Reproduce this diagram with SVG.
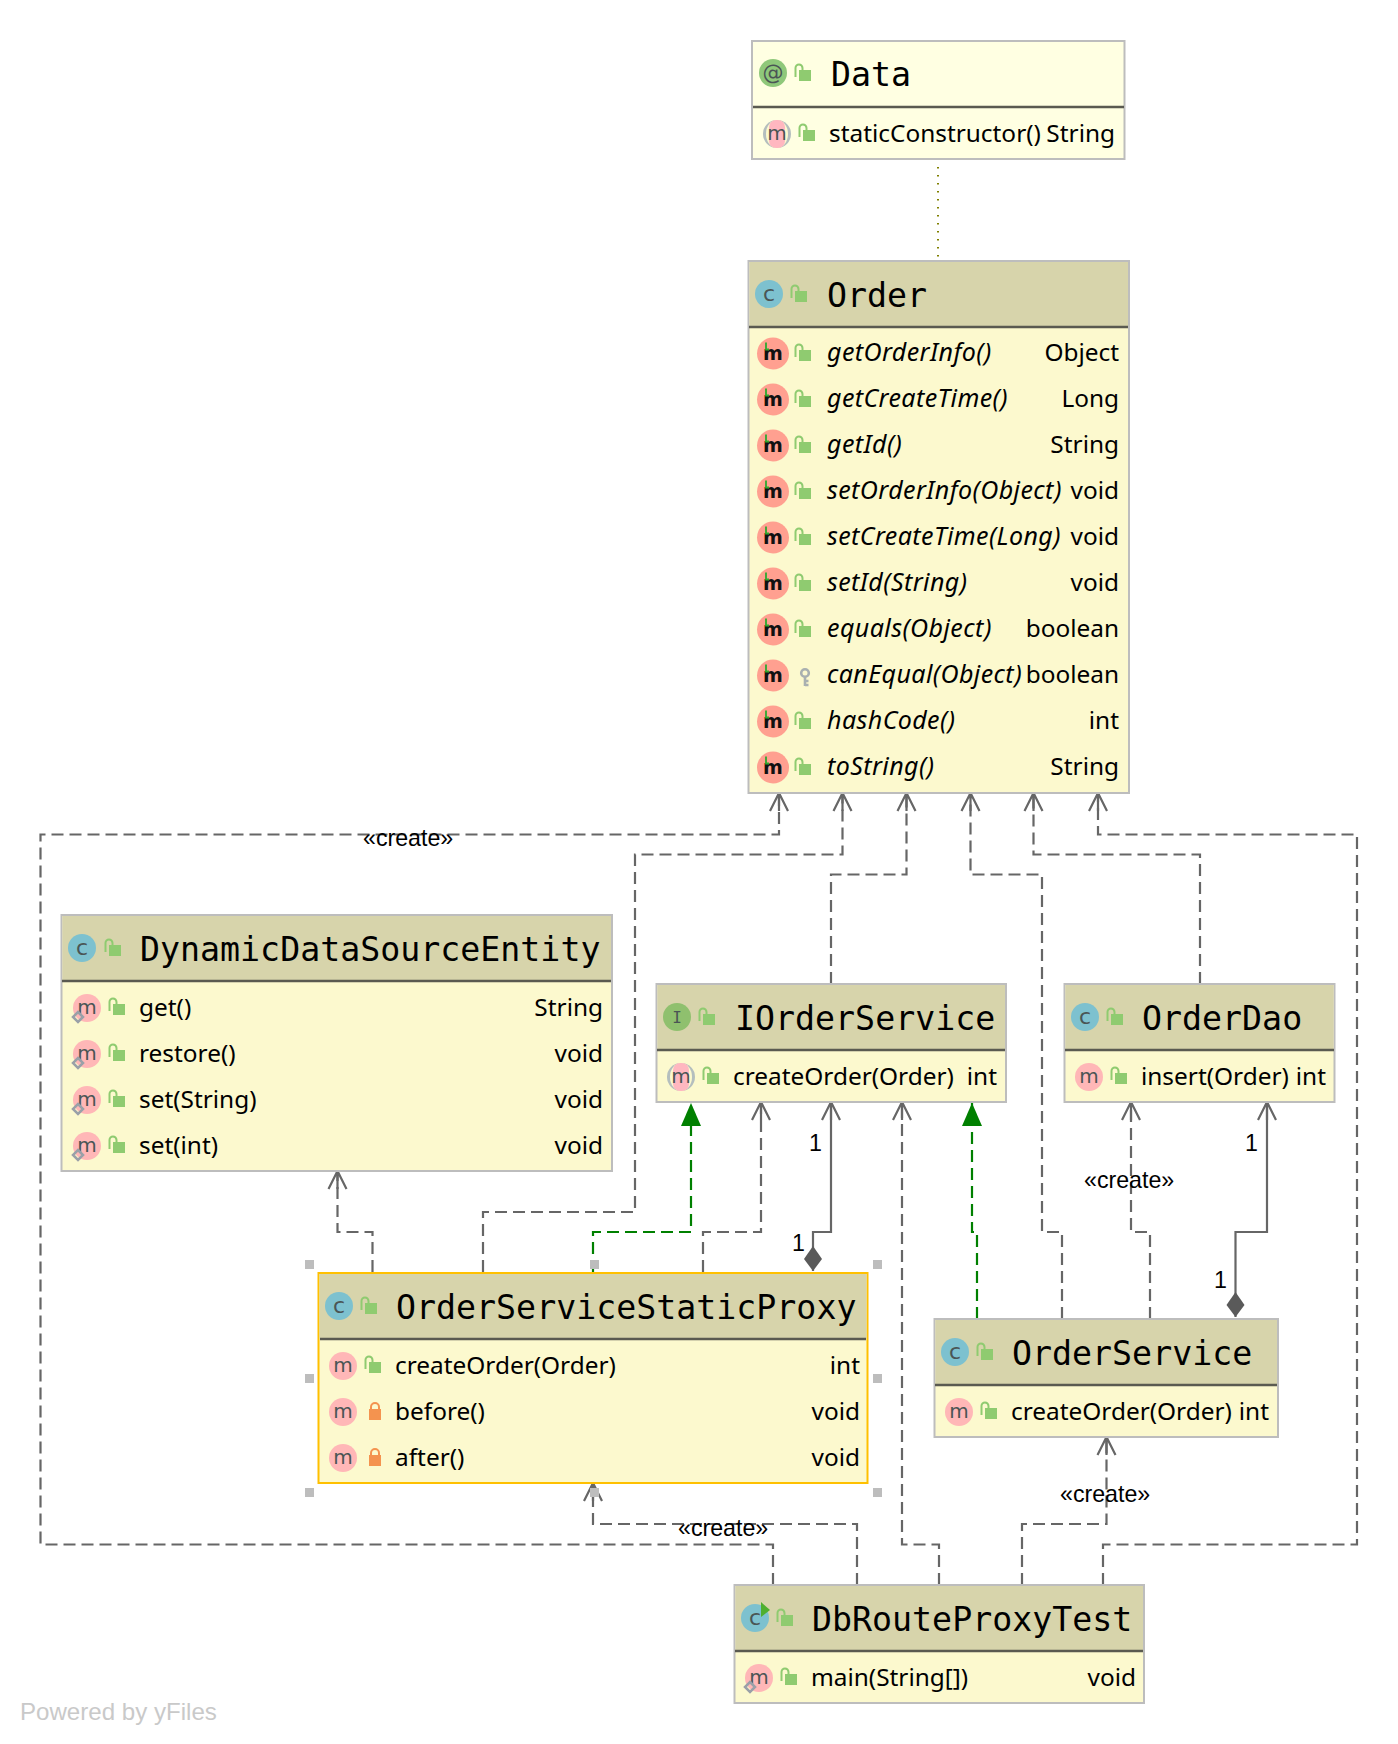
<svg xmlns="http://www.w3.org/2000/svg" width="1398" height="1744" viewBox="0 0 1398 1744">
<style>
.box{fill:#FCF9CE;stroke:#BDBDBD;stroke-width:2}
.sel{stroke:#FFC000}
.head{fill:#D7D4AB}
.div{stroke:#5A5A50;stroke-width:2.5}
.t{font-family:"DejaVu Sans Mono","Liberation Mono",monospace;font-size:33.25px;fill:#000}
.r{font-family:"Noto Sans","Open Sans",sans-serif;font-size:24.4px;fill:#000;transform:translateY(-.8px)}
.i{font-style:italic;font-size:25px;letter-spacing:.42px}
.e{text-anchor:end}
.l{font-family:"Liberation Sans",Arial,sans-serif;font-size:23.2px;fill:#000}
.c{fill:none;stroke:#666;stroke-width:2.2;stroke-dasharray:12 6}
.s{stroke-dasharray:none}
.g{stroke:#008000;marker-end:url(#tri)}
.a{marker-end:url(#open)}
.d{marker-start:url(#dia)}
.h{fill:#BDBDBD}
.ic{font-family:"DejaVu Sans",sans-serif;text-anchor:middle;fill:#4A5555}
</style>
<defs>
<marker id="open" markerUnits="userSpaceOnUse" markerWidth="24" markerHeight="24" refX="20" refY="12" orient="auto"><path d="M2 3 L20 12 L2 21 M2 12 H20" fill="none" stroke="#666" stroke-width="2.2"/></marker>
<marker id="tri" markerUnits="userSpaceOnUse" markerWidth="26" markerHeight="26" refX="24" refY="13" orient="auto"><path d="M1 3 L24 13 L1 23 Z" fill="#008000"/></marker>
<marker id="dia" markerUnits="userSpaceOnUse" markerWidth="28" markerHeight="22" refX="1" refY="11" orient="auto"><path d="M1 11 L13 2 L26 11 L13 20 Z" fill="#5A5A5A"/></marker>
<g id="lo"><path d="M-3.500 5 V-4 a3 3 0 0 1 7 0 V-2" fill="none" stroke="#8FCB70" stroke-width="2"/><rect x="0" y="-2" width="12" height="11" fill="#8FCB70"/></g>
<g id="lp"><path d="M2 0 V-3 a4 4 0 0 1 8 0 V0" fill="none" stroke="#F4934F" stroke-width="2"/><rect x="0" y="-1" width="12" height="11" fill="#F4934F"/></g>
<g id="lk"><circle cx="5" cy="-3" r="3.800" fill="none" stroke="#A9B0B0" stroke-width="2.600"/><path d="M5 0 V10 M5 5 H8.500 M5 9 H8.500" fill="none" stroke="#A9B0B0" stroke-width="2.600"/></g>
<g id="ic"><circle r="14" fill="#7DC1CF"/><text class="ic" y="7" font-size="22">c</text></g>
<g id="ii"><circle r="14" fill="#8FC06E"/><text class="ic" y="6" font-size="16" style="font-family:'DejaVu Sans Mono',monospace">I</text></g>
<g id="ia"><circle r="14" fill="#8FC87A"/><text class="ic" y="7" font-size="21">@</text></g>
<g id="ir"><circle r="14" fill="#7DC1CF"/><text class="ic" y="7" font-size="22">c</text><path d="M6 -16 L15 -8 L6 -1 Z" fill="#4FAF2F"/></g>
<g id="m"><circle r="14" fill="#FFB7B7"/><text class="ic" y="6" font-size="20">m</text></g>
<g id="mo"><circle r="14" fill="#FFB7B7"/><text class="ic" y="6" font-size="20">m</text><path d="M-9 4 L-4 9 L-9 14 L-14 9 Z" fill="none" stroke="#9AA0A8" stroke-width="2.500"/></g>
<g id="mb"><circle r="16" fill="#FFA090"/><text class="ic" y="6" font-size="19" font-weight="bold" style="fill:#111">m</text><path d="M-7 -11 V-4 H-4" fill="none" stroke="#2FA82F" stroke-width="1.800"/></g>
<g id="ma"><circle r="14" fill="#B4BEBE"/><ellipse rx="11" ry="14" fill="#FCF9CE"/><rect x="-8" y="-14" width="16" height="28" rx="7" fill="#FFB7C0"/><text class="ic" y="6" font-size="20">m</text></g>
</defs>
<rect width="1398" height="1744" fill="#FFFFFF"/>

<g id="connectors">
<path class="c" d="M938 167 V258" style="stroke:#808000;stroke-width:2;stroke-dasharray:1.500 6.500"/>
<path class="c a" d="M773 1585 V1544.500 H40.500 V834.500 H779 V793"/>
<path class="c a" d="M483 1272 V1212 H635 V854.500 H842.500 V793"/>
<path class="c a" d="M831 984 V874.500 H906.500 V793"/>
<path class="c a" d="M1062 1319 V1232 H1042 V874.500 H970.500 V793"/>
<path class="c a" d="M1200 984 V854.500 H1033.500 V793"/>
<path class="c a" d="M1103 1585 V1544.500 H1357 V834.500 H1098 V793"/>
<path class="c a" d="M372.500 1272 V1232 H337.500 V1171"/>
<path class="c g" d="M593 1272 V1232 H691 V1103"/>
<path class="c a" d="M703 1272 V1232 H761 V1102"/>
<path class="c s a d" d="M813 1271 V1232 H831 V1102"/>
<path class="c a" d="M939 1585 V1544.500 H902 V1102"/>
<path class="c g" d="M977 1319 V1232 H972 V1103"/>
<path class="c a" d="M1150 1319 V1232 H1131 V1102"/>
<path class="c s a d" d="M1235.500 1317 V1232 H1267 V1102"/>
<path class="c a" d="M857 1585 V1524 H593 V1483"/>
<path class="c a" d="M1022 1585 V1524 H1106.500 V1437"/>
<text class="l" x="363" y="846">«create»</text>
<text class="l" x="678" y="1536">«create»</text>
<text class="l" x="1060" y="1502">«create»</text>
<text class="l" x="1084" y="1188">«create»</text>
<text class="l" x="809" y="1151">1</text>
<text class="l" x="792" y="1251">1</text>
<text class="l" x="1245" y="1151">1</text>
<text class="l" x="1214" y="1288">1</text>
</g>

<g id="node-data">
<rect class="box" x="752" y="41" width="372.500" height="118" style="fill:#FFFFE2"/>
<path class="div" d="M753 107 H1124"/>
<use href="#ia" x="773" y="73"/><use href="#lo" x="799" y="72"/>
<text class="t" x="831" y="86">Data</text>
<use href="#ma" x="777" y="134"/><use href="#lo" x="803" y="132"/>
<text class="r" x="829" y="143">staticConstructor()</text>
<text class="r e" x="1115" y="143">String</text>
</g>

<g id="node-order">
<rect class="box" x="748.500" y="261" width="380.500" height="532"/>
<rect class="head" x="749.500" y="262" width="378.500" height="65"/>
<path class="div" d="M749 327 H1128"/>
<use href="#ic" x="769" y="294"/><use href="#lo" x="795" y="293"/>
<text class="t" x="827" y="306.500">Order</text>
<use href="#mb" x="773" y="353.500"/><use href="#lo" x="799" y="352"/><text class="r i" x="827" y="362">getOrderInfo()</text><text class="r e" x="1119" y="362">Object</text>
<use href="#mb" x="773" y="399.500"/><use href="#lo" x="799" y="398"/><text class="r i" x="827" y="408">getCreateTime()</text><text class="r e" x="1119" y="408">Long</text>
<use href="#mb" x="773" y="445.500"/><use href="#lo" x="799" y="444"/><text class="r i" x="827" y="454">getId()</text><text class="r e" x="1119" y="454">String</text>
<use href="#mb" x="773" y="491.500"/><use href="#lo" x="799" y="490"/><text class="r i" x="827" y="500">setOrderInfo(Object)</text><text class="r e" x="1119" y="500">void</text>
<use href="#mb" x="773" y="537.500"/><use href="#lo" x="799" y="536"/><text class="r i" x="827" y="546">setCreateTime(Long)</text><text class="r e" x="1119" y="546">void</text>
<use href="#mb" x="773" y="583.500"/><use href="#lo" x="799" y="582"/><text class="r i" x="827" y="592">setId(String)</text><text class="r e" x="1119" y="592">void</text>
<use href="#mb" x="773" y="629.500"/><use href="#lo" x="799" y="628"/><text class="r i" x="827" y="638">equals(Object)</text><text class="r e" x="1119" y="638">boolean</text>
<use href="#mb" x="773" y="675.500"/><use href="#lk" x="800" y="676"/><text class="r i" x="827" y="684">canEqual(Object)</text><text class="r e" x="1119" y="684">boolean</text>
<use href="#mb" x="773" y="721.500"/><use href="#lo" x="799" y="720"/><text class="r i" x="827" y="730">hashCode()</text><text class="r e" x="1119" y="730">int</text>
<use href="#mb" x="773" y="767.500"/><use href="#lo" x="799" y="766"/><text class="r i" x="827" y="776">toString()</text><text class="r e" x="1119" y="776">String</text>
</g>

<g id="node-dynamic">
<rect class="box" x="61.500" y="915" width="550.500" height="256"/>
<rect class="head" x="62.500" y="916" width="548.500" height="65"/>
<path class="div" d="M62 981 H611"/>
<use href="#ic" x="82" y="948"/><use href="#lo" x="109" y="947"/>
<text class="t" x="140" y="960.500">DynamicDataSourceEntity</text>
<use href="#mo" x="87" y="1008"/><use href="#lo" x="113" y="1006"/><text class="r" x="139" y="1016.500">get()</text><text class="r e" x="603" y="1016.500">String</text>
<use href="#mo" x="87" y="1054"/><use href="#lo" x="113" y="1052"/><text class="r" x="139" y="1062.500">restore()</text><text class="r e" x="603" y="1062.500">void</text>
<use href="#mo" x="87" y="1100"/><use href="#lo" x="113" y="1098"/><text class="r" x="139" y="1108.500">set(String)</text><text class="r e" x="603" y="1108.500">void</text>
<use href="#mo" x="87" y="1146"/><use href="#lo" x="113" y="1144"/><text class="r" x="139" y="1154.500">set(int)</text><text class="r e" x="603" y="1154.500">void</text>
</g>

<g id="node-iorderservice">
<rect class="box" x="656.500" y="984" width="349.500" height="118"/>
<rect class="head" x="657.500" y="985" width="347.500" height="65"/>
<path class="div" d="M657 1050 H1005"/>
<use href="#ii" x="677" y="1017"/><use href="#lo" x="703" y="1016"/>
<text class="t" x="735" y="1029.500">IOrderService</text>
<use href="#ma" x="681" y="1077"/><use href="#lo" x="707" y="1075"/>
<text class="r" x="733" y="1085.500">createOrder(Order)</text><text class="r e" x="997" y="1085.500">int</text>
</g>

<g id="node-orderdao">
<rect class="box" x="1064.500" y="984" width="270" height="118"/>
<rect class="head" x="1065.500" y="985" width="268" height="65"/>
<path class="div" d="M1065 1050 H1334"/>
<use href="#ic" x="1085" y="1017"/><use href="#lo" x="1111" y="1016"/>
<text class="t" x="1142" y="1029.500">OrderDao</text>
<use href="#m" x="1089" y="1077"/><use href="#lo" x="1115" y="1075"/>
<text class="r" x="1141" y="1085.500">insert(Order)</text><text class="r e" x="1326" y="1085.500">int</text>
</g>

<g id="node-proxy">
<rect class="h" x="305" y="1260" width="9" height="9"/><rect class="h" x="590" y="1260" width="9" height="9"/><rect class="h" x="873" y="1260" width="9" height="9"/>
<rect class="h" x="305" y="1374" width="9" height="9"/><rect class="h" x="873" y="1374" width="9" height="9"/>
<rect class="h" x="305" y="1488" width="9" height="9"/><rect class="h" x="590" y="1488" width="9" height="9"/><rect class="h" x="873" y="1488" width="9" height="9"/>
<rect class="box sel" x="318.500" y="1273" width="549" height="210"/>
<rect class="head" x="319.500" y="1274" width="547" height="65"/>
<path class="div" d="M320 1339 H866"/>
<use href="#ic" x="339" y="1306"/><use href="#lo" x="365" y="1305"/>
<text class="t" x="396" y="1318.500">OrderServiceStaticProxy</text>
<use href="#m" x="343" y="1366"/><use href="#lo" x="369" y="1364"/><text class="r" x="395" y="1374.500">createOrder(Order)</text><text class="r e" x="860" y="1374.500">int</text>
<use href="#m" x="343" y="1412"/><use href="#lp" x="369" y="1410"/><text class="r" x="395" y="1420.500">before()</text><text class="r e" x="860" y="1420.500">void</text>
<use href="#m" x="343" y="1458"/><use href="#lp" x="369" y="1456"/><text class="r" x="395" y="1466.500">after()</text><text class="r e" x="860" y="1466.500">void</text>
</g>

<g id="node-orderservice">
<rect class="box" x="934.500" y="1319" width="343.500" height="118"/>
<rect class="head" x="935.500" y="1320" width="341.500" height="65"/>
<path class="div" d="M935 1385 H1277"/>
<use href="#ic" x="955" y="1352"/><use href="#lo" x="981" y="1351"/>
<text class="t" x="1012" y="1364.500">OrderService</text>
<use href="#m" x="959" y="1412"/><use href="#lo" x="985" y="1410"/>
<text class="r" x="1011" y="1420.500">createOrder(Order)</text><text class="r e" x="1269" y="1420.500">int</text>
</g>

<g id="node-dbroutetest">
<rect class="box" x="734.500" y="1585" width="409.500" height="118"/>
<rect class="head" x="735.500" y="1586" width="407.500" height="65"/>
<path class="div" d="M735 1651 H1143"/>
<use href="#ir" x="755" y="1618"/><use href="#lo" x="781" y="1617"/>
<text class="t" x="812" y="1630.500">DbRouteProxyTest</text>
<use href="#mo" x="759" y="1678"/><use href="#lo" x="785" y="1676"/>
<text class="r" x="811" y="1686.500">main(String[])</text><text class="r e" x="1136" y="1686.500">void</text>
</g>

<text x="20" y="1720" style="font-family:'Liberation Sans',Arial,sans-serif;font-size:24.100px;fill:#C9C9C9">Powered by yFiles</text>
</svg>
